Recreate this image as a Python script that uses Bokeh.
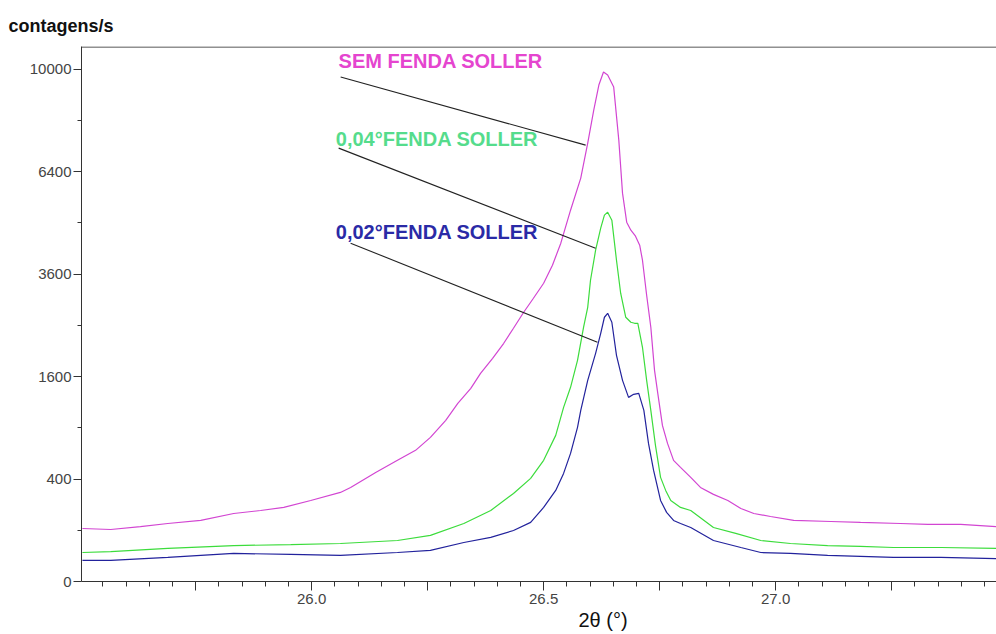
import numpy as np
from bokeh.plotting import figure
from bokeh.models import FixedTicker, CustomJSTickFormatter, Span, Title
from bokeh.core.properties import value
from bokeh.embed import file_html
from bokeh.resources import INLINE

# ---- data (2theta in degrees, intensity in counts/s) ----
sem_theta = [25.506, 25.567, 25.631, 25.690, 25.761, 25.832, 25.890, 25.940, 25.998, 26.062,
             26.084, 26.138, 26.185, 26.224, 26.256, 26.289, 26.315, 26.343, 26.364, 26.390,
             26.414, 26.435, 26.457, 26.478, 26.500, 26.519, 26.537, 26.558, 26.580, 26.595,
             26.608, 26.619, 26.629, 26.638, 26.651, 26.662, 26.670, 26.679, 26.688, 26.698,
             26.707, 26.713, 26.722, 26.731, 26.739, 26.746, 26.756, 26.767, 26.780, 26.795,
             26.817, 26.838, 26.866, 26.897, 26.925, 26.953, 26.989, 27.039, 27.119, 27.183,
             27.269, 27.328, 27.399, 27.475]
sem_counts = [107, 103, 115, 128, 142, 176, 192, 209, 250, 302,
              337, 453, 559, 655, 791, 989, 1209, 1421, 1650, 1897,
              2161, 2442, 2760, 3055, 3388, 3809, 4358, 5250, 6196, 7318,
              8463, 9385, 9883, 9767, 9309, 7419, 5743, 4916, 4700, 4541,
              4307, 3931, 3120, 2461, 1698, 1348, 928, 726, 559, 496,
              413, 337, 289, 250, 203, 176, 161, 142, 137, 133,
              128, 124, 124, 115]

f004_theta = [25.506, 25.567, 25.690, 25.832, 25.955, 26.062, 26.185, 26.256, 26.328, 26.386,
              26.435, 26.472, 26.500, 26.526, 26.543, 26.558, 26.573, 26.586, 26.595, 26.601,
              26.612, 26.623, 26.631, 26.638, 26.647, 26.657, 26.666, 26.677, 26.688, 26.696,
              26.703, 26.713, 26.722, 26.731, 26.741, 26.752, 26.763, 26.774, 26.795, 26.817,
              26.866, 26.914, 26.968, 27.032, 27.112, 27.183, 27.254, 27.356, 27.475]
f004_counts = [32, 34, 42, 49, 52, 55, 64, 81, 128, 192,
               295, 405, 559, 813, 1155, 1436, 1863, 2461, 2864, 3456,
               4179, 4754, 5110, 5194, 4972, 3931, 3164, 2659, 2559, 2539,
               2539, 2089, 1541, 1115, 706, 413, 316, 250, 209, 192,
               111, 88, 64, 55, 49, 47, 44, 44, 42]

f002_theta = [25.506, 25.567, 25.690, 25.832, 25.955, 26.062, 26.185, 26.256, 26.328, 26.386,
              26.435, 26.472, 26.500, 26.526, 26.543, 26.558, 26.573, 26.580, 26.595, 26.612,
              26.623, 26.631, 26.638, 26.647, 26.657, 26.670, 26.683, 26.694, 26.705, 26.716,
              26.726, 26.737, 26.752, 26.765, 26.780, 26.795, 26.817, 26.866, 26.925, 26.968,
              27.032, 27.112, 27.183, 27.254, 27.356, 27.475]
f002_counts = [17, 17, 22, 30, 28, 26, 32, 37, 58, 74,
               99, 133, 209, 316, 445, 625, 905, 1115, 1541, 1983,
               2346, 2659, 2740, 2559, 1948, 1541, 1291, 1334, 1348, 1115,
               726, 470, 250, 182, 142, 128, 111, 64, 44, 32,
               30, 26, 24, 22, 22, 20]

series_names = ["SEM FENDA SOLLER", "0,04°FENDA SOLLER", "0,02°FENDA SOLLER"]
line_colors = ["#D245D2", "#3CDC3C", "#22229C"]
text_colors = ["#E545CF", "#55DC8C", "#2A2AA6"]

# label anchor (theta, counts) and leader lines (theta0, counts0, theta1, counts1)
label_theta = [26.058, 26.052, 26.052]
label_counts = [10314, 7453, 4645]
leader_theta0 = [26.0625, 26.0582, 26.084]
leader_counts0 = [9690, 7152, 4359]
leader_theta1 = [26.5905, 26.612, 26.616]
leader_counts1 = [7252, 4230, 2178]

y_tick_counts = [0, 400, 1600, 3600, 6400, 10000]
y_minor_counts = [100, 900, 2500, 4900, 8100]
x_major = [25.75, 26.0, 26.25, 26.5, 26.75, 27.0, 27.25]
x_minor = [round(25.55 + 0.05 * i, 2) for i in range(39)]

X0, X1 = 25.504, 27.476
S_TOP = 104.4

p = figure(width=996, height=634, output_backend="svg", toolbar_location=None,
           x_range=(X0, X1), y_range=(0, S_TOP),
           min_border_left=81, min_border_top=46, min_border_right=0, min_border_bottom=53)
p.grid.visible = False
p.outline_line_color = None
p.background_fill_color = "white"
p.border_fill_color = "white"

p.title.text = "contagens/s"
p.title.align = "left"
p.title.offset = -73
p.title.standoff = 22
p.title.text_font = "Liberation Sans"
p.title.text_font_style = "bold"
p.title.text_font_size = "18px"
p.title.text_color = "#111111"

for th, c, col in [(sem_theta, sem_counts, line_colors[0]),
                   (f004_theta, f004_counts, line_colors[1]),
                   (f002_theta, f002_counts, line_colors[2])]:
    p.line(th, np.sqrt(np.array(c, dtype=float)), line_color=col, line_width=1.2)

p.segment(x0=leader_theta0, y0=list(np.sqrt(leader_counts0)), x1=leader_theta1,
          y1=list(np.sqrt(leader_counts1)), line_color="#222222", line_width=1.1)

p.text(x=label_theta, y=list(np.sqrt(label_counts)), text=series_names,
       text_color=text_colors, text_font=value("Liberation Sans"), text_font_style="bold",
       text_font_size="20px", text_baseline="middle", text_align="left")

# top border
p.add_layout(Span(location=S_TOP - 0.1, dimension="width", line_color="#222222", line_width=1))

# axes
xa = p.xaxis[0]
xa.ticker = FixedTicker(ticks=x_major, minor_ticks=x_minor)
xa.formatter = CustomJSTickFormatter(code="""
const t = Math.round(tick*100)/100;
return (Math.abs(t*2 - Math.round(t*2)) < 1e-6) ? t.toFixed(1) : '';
""")
xa.major_tick_in = 0
xa.major_tick_out = 9
xa.minor_tick_in = 0
xa.minor_tick_out = 5
xa.axis_line_color = "#333333"
xa.major_tick_line_color = "#333333"
xa.minor_tick_line_color = "#333333"
xa.major_label_text_font = "Liberation Sans"
xa.major_label_text_font_size = "15px"
xa.major_label_text_color = "#444444"
xa.major_label_standoff = 3

ya = p.yaxis[0]
ya.ticker = FixedTicker(ticks=list(np.sqrt(y_tick_counts)), minor_ticks=list(np.sqrt(y_minor_counts)))
ya.formatter = CustomJSTickFormatter(code="return String(Math.round(tick*tick));")
ya.major_tick_in = 0
ya.major_tick_out = 8
ya.minor_tick_in = 0
ya.minor_tick_out = 4
ya.axis_line_color = "#333333"
ya.major_tick_line_color = "#333333"
ya.minor_tick_line_color = "#333333"
ya.major_label_text_font = "Liberation Sans"
ya.major_label_text_font_size = "15px"
ya.major_label_text_color = "#444444"
ya.major_label_standoff = 2

# x-axis title, placed off-centre as in the original
p.add_layout(Title(text="2θ (°)", align="left", offset=497, standoff=0,
                   text_font="Liberation Sans", text_font_style="normal",
                   text_font_size="20px", text_color="#111111"), "below")

open("out.html", "w").write(file_html(p, INLINE))
